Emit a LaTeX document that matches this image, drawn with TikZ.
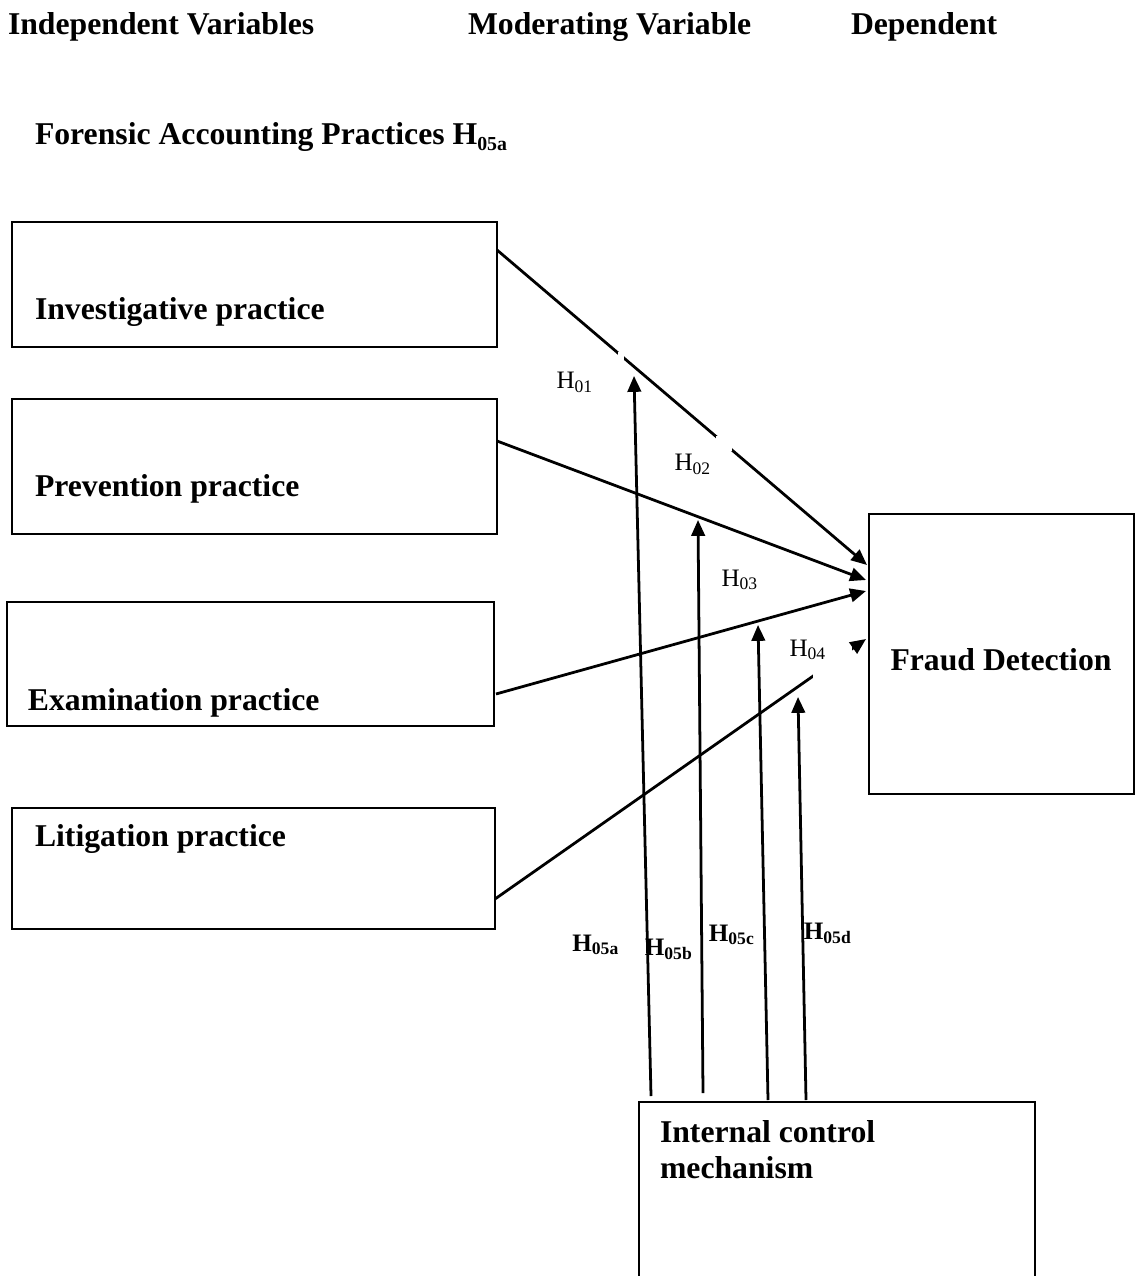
\documentclass[tikz,border=0pt]{standalone}
\usepackage{fontspec}
\setmainfont{Liberation Serif}
\usetikzlibrary{calc,arrows.meta}
\newcommand{\pxu}{0.3785pt}
\newcommand{\titlesub}[1]{\raisebox{-0.35ex}{\fontsize{7.5}{8}\selectfont #1}}

\begin{document}
\begin{tikzpicture}[
  x=\pxu, y=-\pxu,
  every node/.style={inner sep=0pt, outer sep=0pt},
  varbox/.style={draw, line width=0.8pt, rectangle},
  bigtext/.style={font=\fontsize{12}{13.6}\selectfont\bfseries},
  hyp/.style={font=\fontsize{9.5}{11}\selectfont, anchor=base},
  modhyp/.style={font=\fontsize{9.5}{11}\selectfont\bfseries, anchor=base},
  link/.style={line width=1.05pt, -{Triangle[length=6pt, width=5.1pt]}}
]
\clip (0,0) rectangle (1139,1276);

% headings
\node[bigtext, anchor=base west] (hind) at (8,35) {Independent Variables};
\node[bigtext, anchor=base west] (hmod) at (468,35) {Moderating Variable};
\node[bigtext, anchor=base west] (hdep) at (851,35) {Dependent};
\node[bigtext, anchor=base west] (hfap) at (35,145) {Forensic Accounting Practices H\titlesub{05a}};

% boxes
\node[varbox, minimum width=485*\pxu, minimum height=125*\pxu] (inv) at (254.5,284.5) {};
\node[varbox, minimum width=485*\pxu, minimum height=135*\pxu] (prev) at (254.5,466.5) {};
\node[varbox, minimum width=487*\pxu, minimum height=124*\pxu] (exam) at (250.5,664) {};
\node[varbox, minimum width=483*\pxu, minimum height=121*\pxu] (lit) at (253.5,868.5) {};
\node[varbox, minimum width=265*\pxu, minimum height=280*\pxu] (fraud) at (1001.5,654) {};
\node[varbox, minimum width=396*\pxu, minimum height=200*\pxu] (ctrl) at (837,1202) {};

\node[bigtext, anchor=base west] at (35,320) {Investigative practice};
\node[bigtext, anchor=base west] at (35,497) {Prevention practice};
\node[bigtext, anchor=base west] at (28,710) {Examination practice};
\node[bigtext, anchor=base west] at (35,846) {Litigation practice};
\node[bigtext, anchor=base] at (1001,670) {Fraud Detection};
\node[bigtext, anchor=base west] at (660,1142) {Internal control};
\node[bigtext, anchor=base west] at (660,1178) {mechanism};

% direct effects
\draw[link] ($(inv.north east)+(0,28)$) -- ($(fraud.north west)+(-2,51)$);
\draw[link] ($(prev.north east)+(0,42)$) -- ($(fraud.north west)+(-3,66)$);
\draw[link] ($(exam.north east)+(2,92)$) -- ($(fraud.north west)+(-3,77)$);
\draw[link] ($(lit.north east)+(0,91)$) -- ($(fraud.north west)+(-3,125)$);

% moderating effects
\coordinate (t5a) at (634,376);
\coordinate (t5b) at (698,520);
\coordinate (t5c) at (758,625);
\coordinate (t5d) at (798,697);
\draw[link] ($(ctrl.north west)+(12,-6)$) -- (t5a);
\draw[link] ($(ctrl.north west)+(64,-9)$) -- (t5b);
\draw[link] ($(ctrl.north west)+(129,-2)$) -- (t5c);
\draw[link] ($(ctrl.north west)+(167,-2)$) -- (t5d);

% gaps in the lines
\fill[white] (618,352) rectangle (624,361);
\fill[white] (716,436) rectangle (732,451);
\fill[white] (813,647) rectangle (852,680);

% hypotheses
\node[hyp] (h01) at (575,389) {H\textsubscript{01}};
\node[hyp] (h02) at (693,471) {H\textsubscript{02}};
\node[hyp] (h03) at (740,586) {H\textsubscript{03}};
\node[hyp] (h04) at (808,656) {H\textsubscript{04}};
\node[modhyp] (h5a) at (596,951) {H\textsubscript{05a}};
\node[modhyp] (h5b) at (669,955) {H\textsubscript{05b}};
\node[modhyp] (h5c) at (732,941) {H\textsubscript{05c}};
\node[modhyp] (h5d) at (828,939) {H\textsubscript{05d}};
\end{tikzpicture}
\end{document}
